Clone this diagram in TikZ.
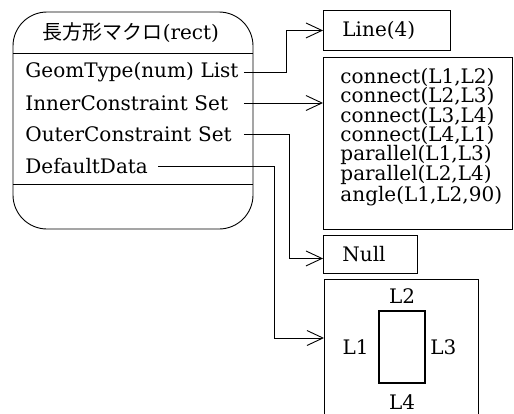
\documentclass[tikz,border=0pt]{standalone}
\usepackage{fontspec}
\setmainfont{DejaVu Serif}
\newfontfamily\jpfont{Noto Sans CJK JP}
\usetikzlibrary{arrows.meta,positioning}

\tikzset{
  item/.style={anchor=west, inner sep=3pt, text width=215pt, align=left},
  box/.style={draw, anchor=north west, align=left, inner xsep=19pt, inner ysep=0pt},
  arr/.style={-{Straight Barb[length=16pt,width=15pt]}},
  lbl/.style={inner sep=2pt},
}

\begin{document}
\begin{tikzpicture}[x=1pt, y=-1pt, font=\fontsize{20}{19.2}\selectfont, line width=0.9pt]
  \clip (0,0) rectangle (514,413);

  % macro
  \draw[rounded corners=34pt] (13,12) rectangle (253,229);
  \draw (13,53) -- (253,53);
  \draw (13,184) -- (253,184);
  \node[anchor=west] (title) at (39,33) {{\jpfont 長方形マクロ}(rect)};

  \node[item] (geom) at (22,72) {GeomType(num) List};
  \node[item] (inner) at (22,103) {InnerConstraint Set};
  \node[item] (outer) at (22,134) {OuterConstraint Set};
  \node[anchor=west, inner ysep=3pt, inner xsep=10pt] (deflt) at (15,166) {DefaultData};

  % data
  \node[box, text width=89pt, minimum height=40pt] (linebox) at (323,10) {Line(4)};
  \node[box, minimum width=189pt, minimum height=172pt] (connbox) at (323,57) {};
  \node[anchor=north west, align=left, inner sep=0pt] (conn) at ([xshift=17pt,yshift=-11pt]connbox.north west)
    {connect(L1,L2)\\connect(L2,L3)\\connect(L3,L4)\\connect(L4,L1)\\parallel(L1,L3)\\parallel(L2,L4)\\angle(L1,L2,90)};
  \node[box, text width=56pt, minimum height=38pt] (nullbox) at (323,235) {Null};
  \node[box, minimum width=154pt, minimum height=150pt] (databox) at (324,279) {};

  % default shape
  \node[draw, line width=1.8pt, minimum width=46pt, minimum height=72pt, inner sep=0pt] (frame) at (402,347) {};
  \node[lbl, above=4pt of frame] (l2) {L2};
  \node[lbl, left=7pt of frame] (l1) {L1};
  \node[lbl, right=2pt of frame] (l3) {L3};
  \node[lbl, below=8pt of frame] (l4) {L4};

  % links
  \coordinate (nn) at ([yshift=-4pt]nullbox.west);
  \coordinate (dd) at ([yshift=-59pt]databox.north west);
  \draw[arr] (geom.east) -- (geom.east -| 286,0) |- (linebox.west);
  \draw[arr] (inner.east) -- (inner.east -| connbox.west);
  \draw[arr] (outer.east) -- (outer.east -| 289,0) |- (nn);
  \draw[arr] (deflt.east) -- (deflt.east -| 274,0) |- (dd);
\end{tikzpicture}
\end{document}
